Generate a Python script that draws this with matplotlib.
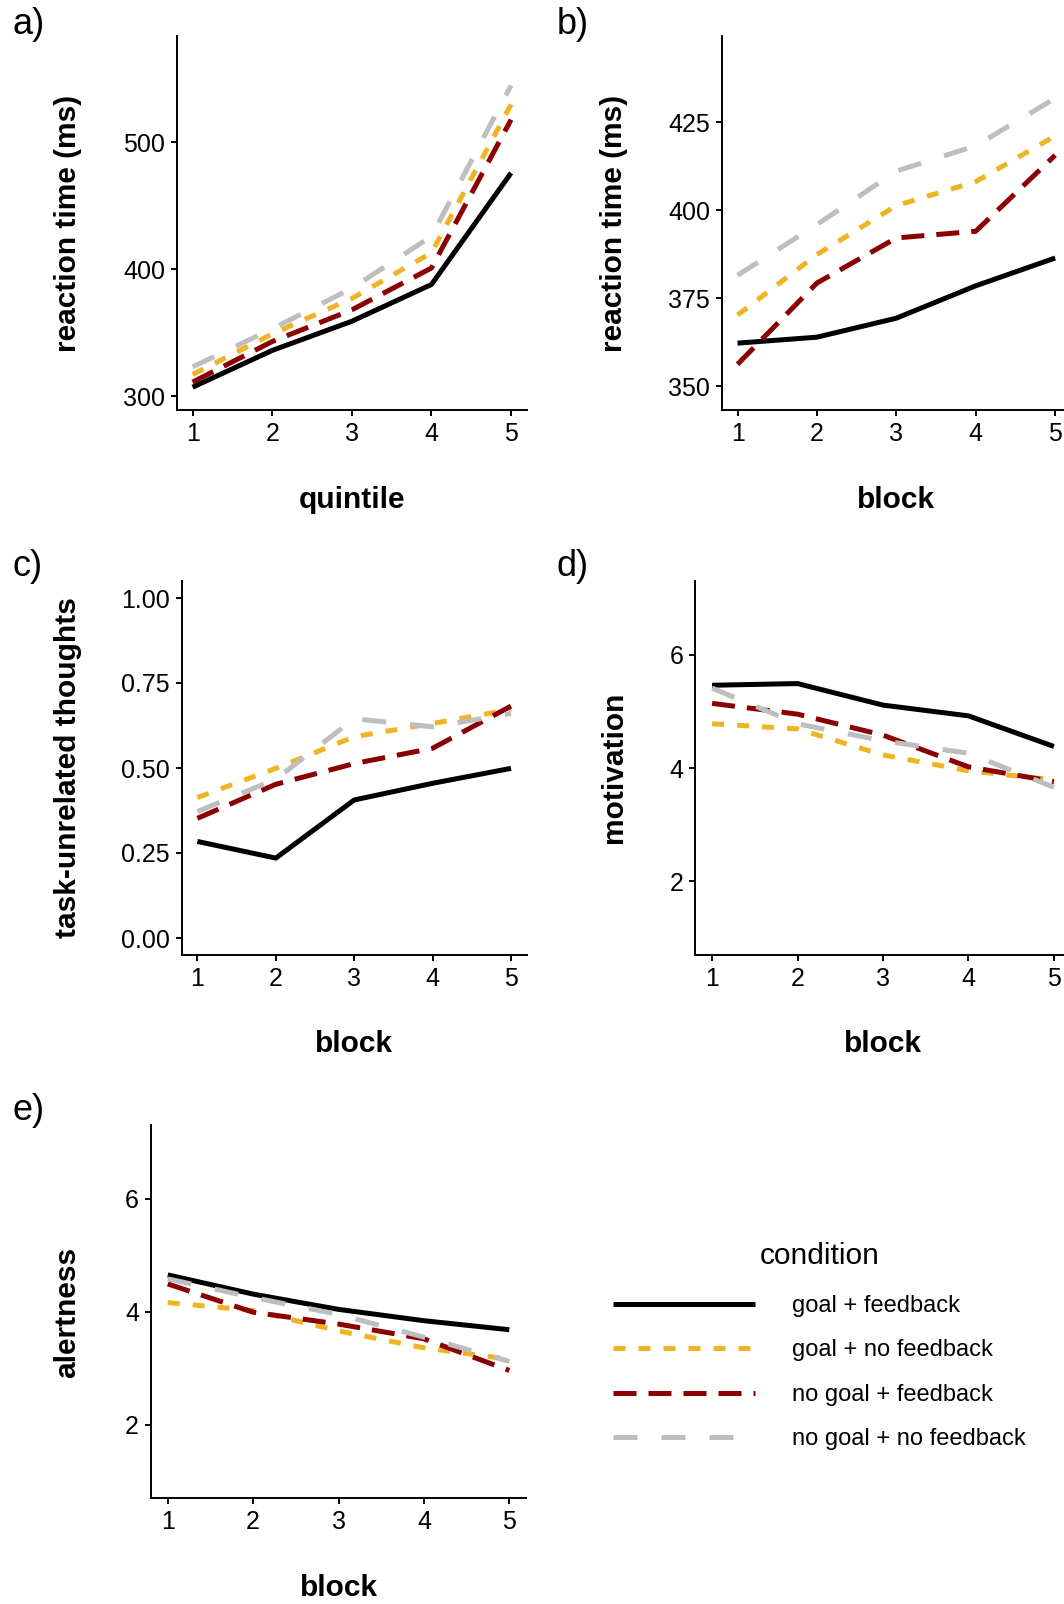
import matplotlib
matplotlib.use("Agg")
import matplotlib.pyplot as plt

plt.rcParams['font.family'] = ['Liberation Sans', 'DejaVu Sans']

blocks = [1, 2, 3, 4, 5]
conditions = ['goal + feedback', 'goal + no feedback',
              'no goal + feedback', 'no goal + no feedback']

# a) reaction time by quintile
rt_quint_gf = [307, 336, 359, 388, 476]
rt_quint_gn = [317, 349, 377, 413, 530]
rt_quint_nf = [311, 343, 368, 401, 518]
rt_quint_nn = [323, 353, 385, 426, 545]

# b) reaction time by block
rt_block_gf = [362.2, 363.9, 369.3, 378.5, 386.4]
rt_block_gn = [370.2, 387.4, 401.3, 408.1, 421.1]
rt_block_nf = [356.2, 379.3, 392.1, 394.0, 415.6]
rt_block_nn = [381.5, 395.9, 411.1, 418.3, 431.8]

# c) task-unrelated thoughts
tut_gf = [0.284, 0.235, 0.406, 0.455, 0.499]
tut_gn = [0.413, 0.499, 0.592, 0.631, 0.672]
tut_nf = [0.352, 0.452, 0.513, 0.558, 0.682]
tut_nn = [0.372, 0.467, 0.645, 0.621, 0.660]

# d) motivation
mot_gf = [5.46, 5.49, 5.11, 4.92, 4.38]
mot_gn = [4.78, 4.69, 4.23, 3.95, 3.79]
mot_nf = [5.14, 4.95, 4.58, 4.02, 3.76]
mot_nn = [5.41, 4.78, 4.48, 4.26, 3.66]

# e) alertness
alert_gf = [4.65, 4.31, 4.04, 3.84, 3.68]
alert_gn = [4.16, 4.02, 3.66, 3.36, 3.16]
alert_nf = [4.49, 3.99, 3.78, 3.52, 2.96]
alert_nn = [4.58, 4.25, 3.95, 3.55, 3.12]

colors = ['#000000', '#F0B323', '#8B0000', '#BEBEBE']
dashes = [None, (2.4, 2.6), (4.6, 2.4), (4.8, 4.8)]

W, H = 1064, 1604
fig = plt.figure(figsize=(W / 100, H / 100), dpi=100)


def make_axes(left, right, top, bottom):
    return fig.add_axes([left / W, 1 - bottom / H, (right - left) / W, (bottom - top) / H])


def draw_panel(ax, series, ylim, yticks, yfmt, xlabel, ylabel, xlab_pos, ylab_pos):
    lines = []
    for vals, c, d in zip(series, colors, dashes):
        ln, = ax.plot(blocks, vals, color=c, lw=3.6, solid_capstyle='butt',
                      dash_capstyle='butt')
        if d is not None:
            ln.set_dashes(d)
        lines.append(ln)
    ax.set_xlim(0.8, 5.2)
    ax.set_ylim(*ylim)
    ax.set_xticks(blocks)
    ax.set_yticks(yticks)
    ax.set_yticklabels([yfmt.format(v) for v in yticks])
    for s in ['top', 'right']:
        ax.spines[s].set_visible(False)
    for s in ['left', 'bottom']:
        ax.spines[s].set_linewidth(1.4)
    ax.tick_params(length=4.5, width=1.4, labelsize=18, pad=4, colors='black')
    ax.set_xlabel(xlabel, fontsize=21.5, fontweight='bold')
    ax.set_ylabel(ylabel, fontsize=21.5, fontweight='bold')
    ax.xaxis.set_label_coords(xlab_pos[0] / W, 1 - xlab_pos[1] / H, transform=fig.transFigure)
    ax.yaxis.set_label_coords(ylab_pos[0] / W, 1 - ylab_pos[1] / H, transform=fig.transFigure)
    ax.xaxis.label.set_va('center')
    ax.yaxis.label.set_va('center')
    return lines


ax_a = make_axes(176.7, 527, 36, 410)
draw_panel(ax_a, [rt_quint_gf, rt_quint_gn, rt_quint_nf, rt_quint_nn],
           (289, 584), [300, 400, 500], '{:.0f}', 'quintile', 'reaction time (ms)',
           (352, 500), (68.5, 223.5))

ax_b = make_axes(721.7, 1071, 36, 410)
draw_panel(ax_b, [rt_block_gf, rt_block_gn, rt_block_nf, rt_block_nn],
           (343.2, 449.5), [350, 375, 400, 425], '{:.0f}', 'block', 'reaction time (ms)',
           (896, 500), (614, 223.5))

ax_c = make_axes(181.7, 526.7, 581, 955)
draw_panel(ax_c, [tut_gf, tut_gn, tut_nf, tut_nn],
           (-0.05, 1.05), [0, 0.25, 0.5, 0.75, 1.0], '{:.2f}', 'block', 'task-unrelated thoughts',
           (354, 1044.5), (67.5, 768))

ax_d = make_axes(695, 1071, 581, 955)
draw_panel(ax_d, [mot_gf, mot_gn, mot_nf, mot_nn],
           (0.7, 7.3), [2, 4, 6], '{:.0f}', 'block', 'motivation',
           (883, 1044.5), (614, 767))

ax_e = make_axes(150.7, 526.4, 1125, 1498.3)
handles = draw_panel(ax_e, [alert_gf, alert_gn, alert_nf, alert_nn],
                     (0.7, 7.3), [2, 4, 6], '{:.0f}', 'block', 'alertness',
                     (338.6, 1588), (67.5, 1312))

for lab, (x, y) in zip(['a)', 'b)', 'c)', 'd)', 'e)'],
                       [(12, 24), (557, 24), (12, 566), (557, 566), (12, 1110)]):
    fig.text(x / W, 1 - y / H, lab, fontsize=26, ha='left', va='center')

leg = fig.legend(handles, conditions, loc='upper left',
                 bbox_to_anchor=(613 / W, 1 - 1242 / H), frameon=False,
                 fontsize=17, title='condition', title_fontsize=21.5,
                 handlelength=6.0, handletextpad=1.6, labelspacing=0.95,
                 borderpad=0, borderaxespad=0)
leg._legend_box.sep = 18

fig.savefig('out.png', dpi=100)
